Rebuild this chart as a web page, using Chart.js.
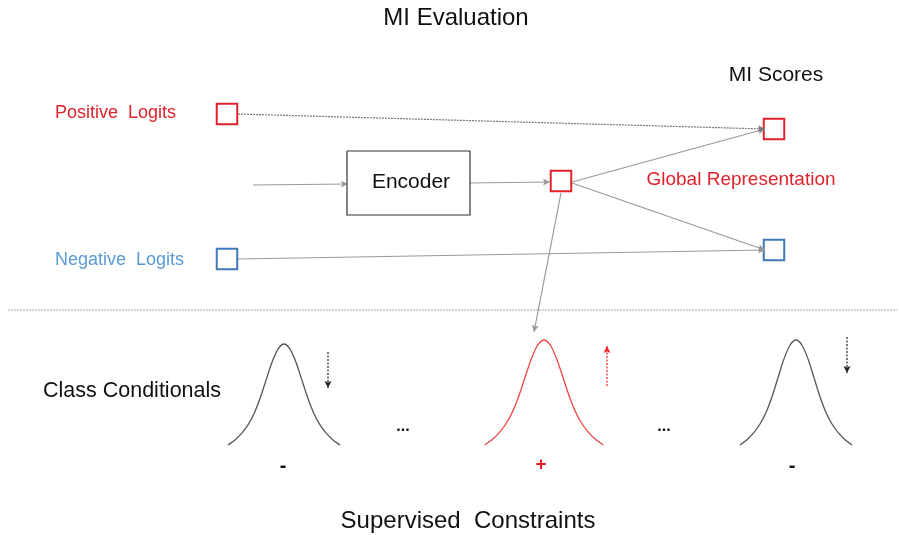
<!DOCTYPE html>
<html>
<head>
<meta charset="utf-8">
<script src="https://cdn.jsdelivr.net/npm/chart.js@4.4.1/dist/chart.umd.min.js"></script>
<style>
  html, body { margin: 0; padding: 0; background: #fff; }
  #diagram { display: block; }
</style>
</head>
<body>
<canvas id="diagram" width="899" height="535"></canvas>
<script>
// node boxes (the small squares)
const squareX = [227, 227, 561, 774, 774];
const squareY = [114, 259, 181, 129, 250];
const squareColors = ['#e0222b', '#3f7ab6', '#e0222b', '#e0222b', '#3f7ab6'];

// connectors: start and end points
const arrowFrom = [[253, 185], [470, 183], [572, 182], [572, 183], [238, 114], [238, 259], [561, 193]];
const arrowTo   = [[348, 184], [550, 182], [765, 129], [765, 250], [765, 129], [765, 250], [534, 332]];

// encoder box corners
const encoderX = [347, 470, 470, 347, 347];
const encoderY = [151, 151, 215, 215, 151];

// bell curve outline: offset from centre and share of the peak height
const bellDx    = [-56, -49, -42, -36, -30, -24, -18, -12, -6, 0, 6, 12, 18, 24, 30, 36, 42, 49, 56];
const bellShare = [0, 0.05, 0.12, 0.2, 0.31, 0.46, 0.64, 0.82, 0.95, 1, 0.95, 0.82, 0.64, 0.46, 0.31, 0.2, 0.12, 0.05, 0];
const bellCenters = [284, 544, 796];
const bellWidthScale = [1, 1.06, 1];
const bellPeaks = [344, 340, 340];
const bellBase = 445;
const bellColors = ['#555555', '#ee4444', '#555555'];

// little trend arrows beside the bells
const trendX = [328, 607, 847];
const trendFromY = [352, 386, 337];
const trendToY = [388, 346, 373];
const trendColors = ['#222222', '#ee2222', '#222222'];

const chartDatasets = [];

// separator
chartDatasets.push({
  data: [{x: 8, y: 310}, {x: 897, y: 310}],
  showLine: true, borderColor: '#a6a6a6', borderWidth: 1, borderDash: [2, 1], pointRadius: 0
});

// encoder box
chartDatasets.push({
  data: encoderX.map((x, i) => ({x: x, y: encoderY[i]})),
  showLine: true, borderColor: '#333333', borderWidth: 1.2, pointRadius: 0, tension: 0
});

// connectors
arrowFrom.forEach((p, i) => {
  chartDatasets.push({
    data: [{x: p[0], y: p[1]}, {x: arrowTo[i][0], y: arrowTo[i][1]}],
    showLine: true,
    borderColor: i === 4 ? '#777777' : '#999999',
    borderDash: i === 4 ? [2, 1] : [],
    borderWidth: 1.2, pointRadius: 0,
    arrowHead: true
  });
});

// bells
bellCenters.forEach((c, k) => {
  chartDatasets.push({
    data: bellDx.map((d, i) => ({
      x: c + d * bellWidthScale[k],
      y: bellBase - bellShare[i] * (bellBase - bellPeaks[k])
    })),
    showLine: true, borderColor: bellColors[k], borderWidth: 1.3,
    pointRadius: 0, cubicInterpolationMode: 'monotone'
  });
});

// trend arrows
trendX.forEach((x, k) => {
  chartDatasets.push({
    data: [{x: x, y: trendFromY[k]}, {x: x, y: trendToY[k]}],
    showLine: true, borderColor: trendColors[k], borderWidth: 1.2,
    borderDash: [2, 1.5], pointRadius: 0, arrowHead: true
  });
});

// squares on top
chartDatasets.push({
  data: squareX.map((x, i) => ({x: x, y: squareY[i]})),
  showLine: false, clip: false,
  pointStyle: 'rect', pointRadius: 14.5,
  pointBorderWidth: 2, pointBorderColor: squareColors,
  pointBackgroundColor: '#ffffff'
});

const labels = [
  {text: 'MI Evaluation', x: 456, y: 25, size: 24, color: '#111111', align: 'center'},
  {text: 'MI Scores', x: 776, y: 81, size: 21, color: '#111111', align: 'center'},
  {text: 'Positive  Logits', x: 55, y: 118, size: 18, color: '#e0222b', align: 'left'},
  {text: 'Negative  Logits', x: 55, y: 265, size: 18, color: '#5b9bd5', align: 'left'},
  {text: 'Encoder', x: 411, y: 188, size: 21, color: '#111111', align: 'center'},
  {text: 'Global Representation', x: 741, y: 185, size: 19, color: '#e0222b', align: 'center'},
  {text: 'Class Conditionals', x: 132, y: 397, size: 21.5, color: '#111111', align: 'center'},
  {text: '...', x: 403, y: 431, size: 16, color: '#111111', align: 'center', bold: true},
  {text: '...', x: 664, y: 431, size: 16, color: '#111111', align: 'center', bold: true},
  {text: '-', x: 283, y: 472, size: 20, color: '#111111', align: 'center', bold: true},
  {text: '+', x: 541, y: 470, size: 19, color: '#e0222b', align: 'center', bold: true},
  {text: '-', x: 792, y: 472, size: 20, color: '#111111', align: 'center', bold: true},
  {text: 'Supervised  Constraints', x: 468, y: 528, size: 24, color: '#111111', align: 'center'}
];

const arrowHeads = {
  id: 'arrowHeads',
  afterDatasetsDraw(chart) {
    const ctx = chart.ctx;
    chart.data.datasets.forEach((ds, i) => {
      if (!ds.arrowHead) return;
      const pts = chart.getDatasetMeta(i).data;
      const a = pts[pts.length - 2], b = pts[pts.length - 1];
      const ang = Math.atan2(b.y - a.y, b.x - a.x);
      ctx.save();
      ctx.translate(b.x, b.y);
      ctx.rotate(ang);
      ctx.fillStyle = ds.borderColor;
      ctx.beginPath();
      ctx.moveTo(0, 0);
      ctx.lineTo(-7, -3.5);
      ctx.lineTo(-5.5, 0);
      ctx.lineTo(-7, 3.5);
      ctx.closePath();
      ctx.fill();
      ctx.restore();
    });
  }
};

const textLabels = {
  id: 'textLabels',
  afterDraw(chart) {
    const ctx = chart.ctx;
    const xs = chart.scales.x, ys = chart.scales.y;
    ctx.save();
    ctx.textBaseline = 'alphabetic';
    labels.forEach(l => {
      ctx.font = (l.bold ? 'bold ' : '') + l.size + 'px "Liberation Sans", Arial, sans-serif';
      ctx.fillStyle = l.color;
      ctx.textAlign = l.align;
      ctx.fillText(l.text, xs.getPixelForValue(l.x), ys.getPixelForValue(l.y));
    });
    ctx.restore();
  }
};

new Chart(document.getElementById('diagram').getContext('2d'), {
  type: 'scatter',
  data: { datasets: chartDatasets },
  options: {
    responsive: false,
    animation: false,
    layout: { padding: 0, autoPadding: false },
    plugins: {
      legend: { display: false },
      tooltip: { enabled: false }
    },
    scales: {
      x: { type: 'linear', min: 0, max: 899, display: false },
      y: { type: 'linear', min: 0, max: 535, reverse: true, display: false }
    }
  },
  plugins: [arrowHeads, textLabels]
});
</script>
</body>
</html>
